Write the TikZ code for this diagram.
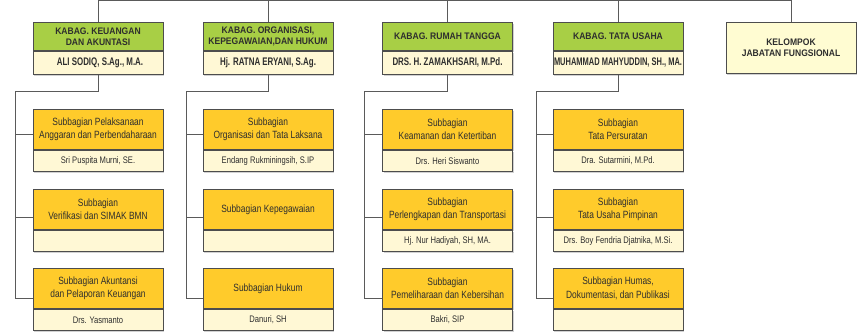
\documentclass[tikz,border=0pt]{standalone}
\usepackage{fontspec}
\usetikzlibrary{shadows}
\setmainfont{Liberation Sans}
\newfontfamily\hdfont[FakeStretch=0.9]{Liberation Sans}
\newfontfamily\nmfont[FakeStretch=0.72]{Liberation Sans}
\newfontfamily\nmnarrow[FakeStretch=0.68]{Liberation Sans}
\newfontfamily\sbfont[FakeStretch=0.8]{Liberation Sans}
\definecolor{grn}{HTML}{A8CF45}
\definecolor{ylw}{HTML}{FFCB2B}
\definecolor{crm}{HTML}{FFF8D5}
\definecolor{kcrm}{HTML}{FFFCD2}
\definecolor{bordc}{HTML}{4D4D4D}
\definecolor{linec}{HTML}{5A5A5A}
\definecolor{txt}{HTML}{2E2E2E}
\begin{document}
\begin{tikzpicture}[x=1pt,y=-1pt,
  box/.style={draw=bordc, line width=0.9pt, minimum width=130pt, inner sep=1pt, align=center, text=txt, anchor=north,
    drop shadow={shadow xshift=1.2pt, shadow yshift=-1.2pt, fill=black, opacity=0.18}},
  hdt/.style={box, fill=grn, minimum height=28pt, font=\hdfont\bfseries\fontsize{9.5}{11}\selectfont},
  hdn/.style={box, fill=crm, minimum height=23pt, font=\nmfont\bfseries\fontsize{11}{12}\selectfont},
  kel/.style={box, fill=kcrm, minimum height=51pt, font=\hdfont\bfseries\fontsize{9.5}{11}\selectfont},
  sbt/.style={box, fill=ylw, minimum height=40pt, font=\sbfont\fontsize{10.5}{13.3}\selectfont},
  sbn/.style={box, fill=crm, minimum height=21pt, font=\sbfont\fontsize{9.5}{11}\selectfont},
  conn/.style={draw=linec, line width=1pt}]
\useasboundingbox (0,0) rectangle (861,336);
% top connectors (drawn first)
\coordinate (top) at (0,0.8);
% heads
\node[hdt] (ht1) at (98,22) {KABAG. KEUANGAN\\DAN AKUNTASI};
\node[hdn] (hn1) at (ht1.south) {\hspace*{4pt}ALI SODIQ, S.Ag., M.A.};
\node[hdt] (ht2) at (268,22) {KABAG. ORGANISASI,\\KEPEGAWAIAN,DAN HUKUM};
\node[hdn] (hn2) at (ht2.south) {Hj. RATNA ERYANI, S.Ag.};
\node[hdt] (ht3) at (447.5,22) {KABAG. RUMAH TANGGA};
\node[hdn] (hn3) at (ht3.south) {DRS. H. ZAMAKHSARI, M.Pd.};
\node[hdt] (ht4) at (618,22) {KABAG. TATA USAHA};
\node[hdn, font=\nmnarrow\bfseries\fontsize{11}{12}\selectfont] (hn4) at (ht4.south) {MUHAMMAD MAHYUDDIN, SH., MA.};
\node[kel] (k) at (791,22) {KELOMPOK\\JABATAN FUNGSIONAL};
% column 1
\node[sbt] (st11) at (98,109) {Subbagian Pelaksanaan\\Anggaran dan Perbendaharaan};
\node[sbn] (sn11) at (st11.south) {Sri Puspita Murni, SE.};
\node[sbt] (st12) at (98,189) {Subbagian\\Verifikasi dan SIMAK BMN};
\node[sbn] (sn12) at (st12.south) {};
\node[sbt] (st13) at (98,268) {Subbagian Akuntansi\\dan Pelaporan Keuangan};
\node[sbn] (sn13) at (st13.south) {Drs. Yasmanto};
% column 2
\node[sbt] (st21) at (268,109) {Subbagian\\Organisasi dan Tata Laksana};
\node[sbn] (sn21) at (st21.south) {Endang Rukminingsih, S.IP};
\node[sbt] (st22) at (268,189) {Subbagian Kepegawaian};
\node[sbn] (sn22) at (st22.south) {};
\node[sbt] (st23) at (268,268) {Subbagian Hukum};
\node[sbn] (sn23) at (st23.south) {Danuri, SH};
% column 3
\node[sbt] (st31) at (447.5,109) {Subbagian\\Keamanan dan Ketertiban};
\node[sbn] (sn31) at (st31.south) {Drs. Heri Siswanto};
\node[sbt] (st32) at (447.5,189) {Subbagian\\Perlengkapan dan Transportasi};
\node[sbn] (sn32) at (st32.south) {Hj. Nur Hadiyah, SH, MA.};
\node[sbt] (st33) at (447.5,268) {Subbagian\\Pemeliharaan dan Kebersihan};
\node[sbn] (sn33) at (st33.south) {Bakri, SIP};
% column 4
\node[sbt] (st41) at (618,109) {Subbagian\\Tata Persuratan};
\node[sbn] (sn41) at (st41.south) {Dra. Sutarmini, M.Pd.};
\node[sbt] (st42) at (618,189) {Subbagian\\Tata Usaha Pimpinan};
\node[sbn] (sn42) at (st42.south) {Drs. Boy Fendria Djatnika, M.Si.};
\node[sbt] (st43) at (618,268) {Subbagian Humas,\\Dokumentasi, dan Publikasi};
\node[sbn] (sn43) at (st43.south) {};
% top connectors
\draw[conn] (ht1.north) -- (ht1.north |- top) -| (k.north);
\foreach \c in {2,3,4}{\draw[conn] (ht\c.north) -- (ht\c.north |- top);}
% branch connectors
\foreach \c/\bx in {1/15,2/186,3/364,4/536}{
  \coordinate (b\c) at (\bx,92);
  \coordinate (p\c1) at ([yshift=-5pt]st\c1.west);
  \coordinate (p\c2) at ([yshift=-8pt]st\c2.west);
  \coordinate (p\c3) at ([yshift=-10pt]st\c3.west);
  \draw[conn] (hn\c.south) |- (b\c) |- (p\c3);
  \draw[conn] (b\c |- p\c1) -- (p\c1);
  \draw[conn] (b\c |- p\c2) -- (p\c2);
}
\end{tikzpicture}
\end{document}
